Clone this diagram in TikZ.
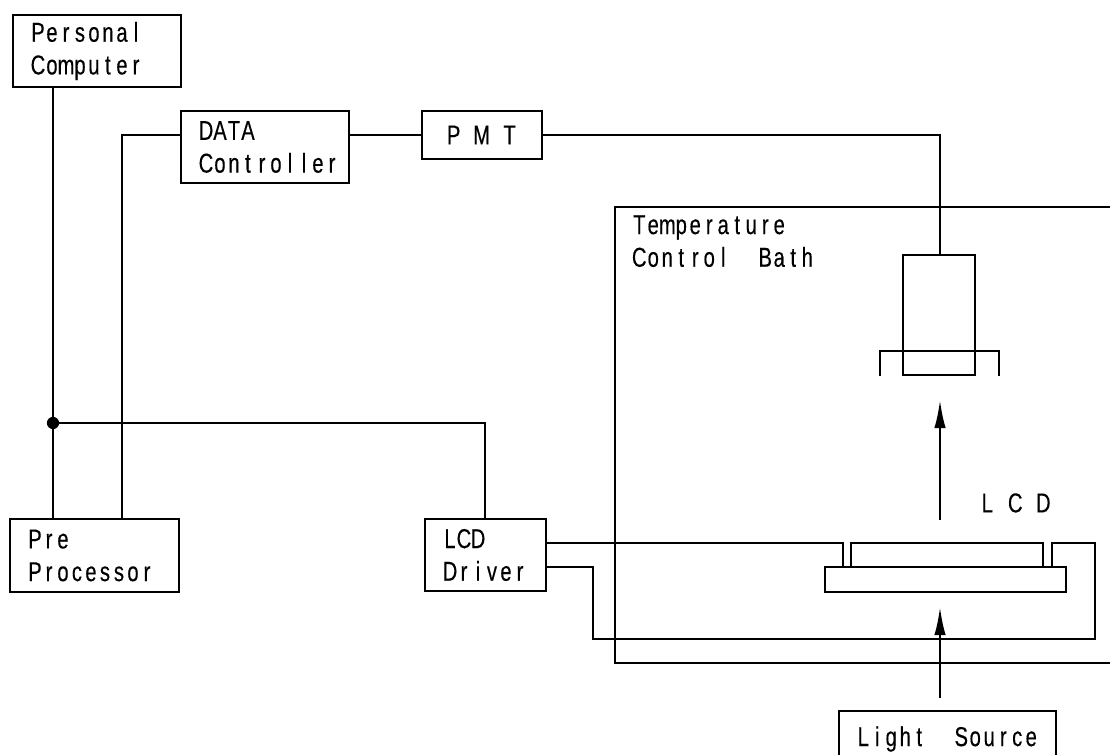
\documentclass[tikz,border=0pt]{standalone}
\usepackage{fontspec}
\usetikzlibrary{arrows.meta}
\setmainfont[FakeStretch=0.74,FakeBold=0.25]{Liberation Sans}
\def\fpa#1{\ifx#1\relax\else\makebox[10.5pt][c]{#1}\expandafter\fpa\fi}
\newcommand{\fp}[1]{\fpa#1\relax}
\tikzset{
  x=0.75pt,y=-0.75pt,
  wire/.style={line width=1.7pt,line join=miter},
  thick wire/.style={line width=2.2pt,line join=miter},
  box/.style n args={2}{draw,line width=1.7pt,anchor=north west,inner xsep=13.5pt,inner ysep=0pt,outer sep=0pt,
    text width=#1*0.75pt-27pt,minimum height=#2*0.75pt,align=left,
    font=\fontsize{20.5pt}{24.5pt}\selectfont},
  part/.style n args={2}{draw,line width=1.7pt,anchor=north west,inner sep=0pt,outer sep=0pt,
    minimum width=#1*0.75pt,minimum height=#2*0.75pt},
  label/.style={anchor=north west,inner sep=0pt,align=left,font=\fontsize{20.5pt}{24.5pt}\selectfont},
  ray/.style={line width=1.7pt,-{Latex[length=21pt,width=8.5pt]}},
}
\begin{document}
\begin{tikzpicture}
\useasboundingbox (0,0) rectangle (1110,755);
% boxes
\node[box={168}{72}] (pc) at (13,15) {\fp{Personal}\\\fp{Computer}};
\node[box={168}{72}] (data) at (181,111) {\fp{DATA}\\\fp{Controller}};
\node[box={120}{48}] (pmt) at (422,111) {\hspace*{5pt}\fp{P~M~T}};
\node[box={169}{73}] (pre) at (10,519) {\fp{Pre}\\\fp{Processor}};
\node[box={121}{72}] (drv) at (425,519) {\fp{LCD}\\\fp{Driver}};
\node[part={72}{120}] (tube) at (903,255) {};
\node[part={192}{24}] (lcdtop) at (851,543) {};
\node[part={241}{25}] (lcdbase) at (825,567) {};
% bath and light source (run off the picture)
\coordinate (bathNE) at (1110,207);
\coordinate (bathNW) at (615,207);
\coordinate (bathSW) at (615,663);
\coordinate (bathSE) at (1110,663);
\draw[thick wire] (bathNE) -- (bathNW) -- (bathSW) -- (bathSE);
\node[label] (bathtxt) at (632,215) {\fp{Temperature}\\\fp{Control~~Bath}};
\coordinate (lsSW) at (839,755);
\coordinate (lsNW) at (839,711);
\coordinate (lsNE) at (1056,711);
\coordinate (lsSE) at (1056,755);
\draw[wire] (lsSW) -- (lsNW) -- (lsNE) -- (lsSE);
\node[label] (lstxt) at (856,726) {\fp{Light~~Source}};
\node[label] (lcdtxt) at (980,493) {\fp{L~C~D}};
% cap
\coordinate (capL) at (880,376);
\coordinate (capLT) at (880,351);
\coordinate (capRT) at (999,351);
\coordinate (capR) at (999,376);
\draw[wire] (capL) -- (capLT) -- (capRT) -- (capR);
% computer bus
\coordinate (jn) at (53,423);
\draw[wire] (pc.south -| jn) -- (pre.north -| jn);
\fill (jn) circle (4.6pt);
\coordinate (drvBus) at (485,423);
\draw[wire] (jn) -- (drvBus) -- (drv.north -| drvBus);
% data to preprocessor
\coordinate (dataW) at (181,135);
\coordinate (preBend) at (122,135);
\draw[wire] (dataW) -- (preBend) -- (pre.north -| preBend);
% data to pmt
\draw[wire] (pmt.west -| data.east) -- (pmt.west);
% pmt to tube
\coordinate (pmtBend) at (940,135);
\draw[wire] (pmt.east) -- (pmtBend) -- (tube.north -| pmtBend);
% driver to lcd
\coordinate (drvA) at (546,543);
\coordinate (lA) at (843,543);
\draw[wire] (drvA) -- (lA) -- (lcdbase.north -| lA);
\coordinate (drvB) at (546,567);
\coordinate (b1) at (593,567);
\coordinate (b2) at (593,639);
\coordinate (b3) at (1095,639);
\coordinate (b4) at (1095,543);
\coordinate (b5) at (1052,543);
\draw[wire] (drvB) -- (b1) -- (b2) -- (b3) -- (b4) -- (b5) -- (lcdbase.north -| b5);
% rays
\coordinate (r1s) at (940,520);
\coordinate (r1e) at (940,400);
\draw[ray] (r1s) -- (r1e);
\coordinate (r2s) at (940,698);
\coordinate (r2e) at (940,607);
\draw[ray] (r2s) -- (r2e);
\end{tikzpicture}
\end{document}
